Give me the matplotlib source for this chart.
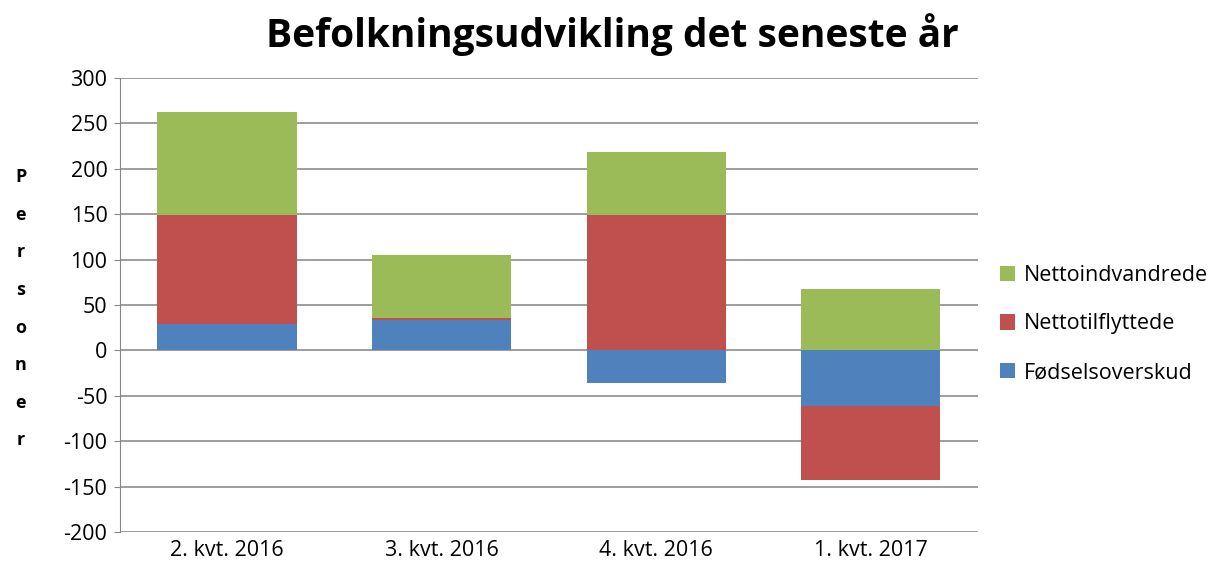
import numpy as np
import matplotlib.pyplot as plt

plt.rcParams['font.family'] = ['Open Sans', 'DejaVu Sans']
plt.rcParams['axes.unicode_minus'] = False

kvartaler = ["2. kvt. 2016", "3. kvt. 2016", "4. kvt. 2016", "1. kvt. 2017"]
foedselsoverskud = [29, 34, -36, -61]
nettotilflyttede = [120, 2, 149, -82]
nettoindvandrede = [114, 69, 69, 68]

serier = [("Fødselsoverskud", foedselsoverskud, "#4F81BD"),
          ("Nettotilflyttede", nettotilflyttede, "#C0504D"),
          ("Nettoindvandrede", nettoindvandrede, "#9BBB59")]

fig = plt.figure(figsize=(12.24, 5.76), dpi=100)
ax = fig.add_axes([0.098, 0.0764, 0.701, 0.7882])

x = np.arange(len(kvartaler))
pos = np.zeros(len(x))
neg = np.zeros(len(x))
handles = []
for navn, vals, farve in serier:
    vals = np.array(vals, dtype=float)
    bund = np.where(vals >= 0, pos, neg)
    b = ax.bar(x, vals, 0.65, bottom=bund, color=farve, label=navn, zorder=3)
    handles.append(b)
    pos = pos + np.where(vals >= 0, vals, 0)
    neg = neg + np.where(vals < 0, vals, 0)

ax.set_ylim(-200, 300)
ax.set_yticks(np.arange(-200, 301, 50))
ax.set_xlim(-0.5, len(x) - 0.5)
ax.set_xticks(x)
ax.set_xticklabels(kvartaler)
ax.tick_params(axis='x', length=0, labelsize=15.5, pad=6)
ax.tick_params(axis='y', length=4, color='#868686', labelsize=15.5, pad=5)
ax.yaxis.grid(True, color='#8c8c8c', linewidth=1.2, zorder=0)
for s in ['top', 'right', 'bottom']:
    ax.spines[s].set_visible(False)
ax.spines['left'].set_color('#868686')

fig.text(0.5, 0.94, "Befolkningsudvikling det seneste år", ha='center', va='center',
         fontsize=28, fontweight='bold')

# lodret aksetitel, et bogstav pr. linje
fig.text(0.017, 0.464, "\n".join("Personer"), ha='center', va='center',
         fontsize=13, fontweight='bold', linespacing=2.4)

ax.legend(handles[::-1], [h.get_label() for h in handles[::-1]],
          loc='center left', bbox_to_anchor=(0.817, 0.4375),
          bbox_transform=fig.transFigure, frameon=False, borderpad=0,
          borderaxespad=0, fontsize=15.5, handlelength=0.7, handleheight=0.7,
          labelspacing=1.28, handletextpad=0.4)

fig.savefig("out.png", dpi=100)
